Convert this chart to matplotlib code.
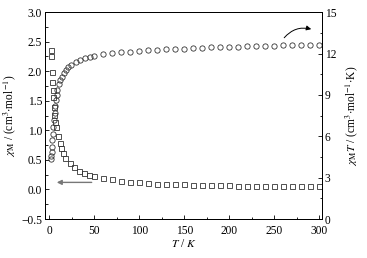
import numpy as np
import matplotlib
matplotlib.use("Agg")
import matplotlib.pyplot as plt
from matplotlib.ticker import MultipleLocator

plt.rcParams['font.family'] = ['Liberation Serif', 'DejaVu Serif']
plt.rcParams['mathtext.fontset'] = 'stix'
plt.rcParams['font.size'] = 8.3

# chi_M (squares, left axis)
t_chi = [1.8, 2.2, 2.6, 3.0, 3.4, 3.8, 4.5, 5.5, 6.6, 7.7, 9.2, 11.4, 13.3, 15.2, 17.4,
         22.9, 27.7, 33.3, 38.8, 44.3, 49.8,
         60, 70, 80, 90, 100, 110, 120, 130, 140, 150, 160, 170, 180, 190, 200,
         210, 220, 230, 240, 250, 260, 270, 280, 290, 300]
chi = [2.36, 2.25, 1.99, 1.82, 1.68, 1.57, 1.39, 1.26, 1.14, 1.05, 0.90, 0.79, 0.71, 0.62, 0.53,
       0.44, 0.38, 0.32, 0.28, 0.25, 0.23,
       0.20, 0.17, 0.15, 0.13, 0.12, 0.11, 0.10, 0.095, 0.09, 0.085, 0.08, 0.077, 0.074, 0.071, 0.068,
       0.066, 0.064, 0.062, 0.06, 0.058, 0.056, 0.055, 0.054, 0.052, 0.051]

# chi_M*T (circles, right axis)
t_chit = [1.9, 2.0, 2.3, 2.6, 3.0, 3.5, 4.1, 4.8, 5.6, 6.3, 7.1, 7.9, 8.9, 10.4, 12.2,
          14.1, 16, 18.5, 21.1, 24.4, 29.2, 34, 39.5, 45, 49.5,
          60, 70, 80, 90, 100, 110, 120, 130, 140, 150, 160, 170, 180, 190, 200,
          210, 220, 230, 240, 250, 260, 270, 280, 290, 300]
chit = [4.37, 4.54, 4.84, 5.23, 5.70, 6.17, 6.69, 7.20, 7.71, 8.19, 8.61, 9.00, 9.39, 9.77, 10.07,
        10.33, 10.59, 10.80, 11.01, 11.19, 11.36, 11.53, 11.66, 11.74, 11.79,
        11.93, 12.01, 12.08, 12.13, 12.17, 12.22, 12.26, 12.30, 12.33, 12.36, 12.39, 12.42, 12.44,
        12.46, 12.48, 12.50, 12.52, 12.54, 12.56, 12.58, 12.59, 12.61, 12.62, 12.64, 12.65]

fig = plt.figure(figsize=(3.67, 2.58), dpi=100)
ax = fig.add_axes([0.1226, 0.151, 0.7548, 0.802])
ax2 = ax.twinx()

ax.plot(t_chi, chi, 's', ms=3.6, mfc='none', mec='#333333', mew=0.6)
ax2.plot(t_chit, chit, 'o', ms=3.8, mfc='none', mec='#333333', mew=0.6)

ax.set_xlim(-5, 303)
ax.set_ylim(-0.5, 3.0)
ax2.set_ylim(0, 15)

ax.xaxis.set_major_locator(MultipleLocator(50))
ax.xaxis.set_minor_locator(MultipleLocator(25))
ax.yaxis.set_major_locator(MultipleLocator(0.5))
ax.yaxis.set_minor_locator(MultipleLocator(0.25))
ax2.yaxis.set_major_locator(MultipleLocator(3))
ax2.yaxis.set_minor_locator(MultipleLocator(1.5))

for a in (ax, ax2):
    a.tick_params(which='both', direction='in', width=0.6)
    a.tick_params(which='major', length=3)
    a.tick_params(which='minor', length=1.8)
    for s in a.spines.values():
        s.set_linewidth(0.7)
ax.tick_params(axis='both', which='both', top=False, right=False)
ax.tick_params(axis='x', pad=4)
ax.tick_params(axis='y', pad=2)
ax2.tick_params(axis='y', which='both', pad=2)

ax.set_xlabel(r'$T$ / $K$', labelpad=1)
ax.set_ylabel(r'$\chi_{\rm M}$ / (cm$^3$$\cdot$mol$^{-1}$)', labelpad=2)
ax2.set_ylabel(r'$\chi_{\rm M}T$ / (cm$^3$$\cdot$mol$^{-1}$$\cdot$K)', labelpad=5)

# arrows pointing to the axis each series belongs to
ax.annotate('', xy=(5, 0.12), xytext=(50, 0.12),
            arrowprops=dict(arrowstyle='-|>', color='#777777', lw=1.0,
                            mutation_scale=7))
ax.annotate('', xy=(294, 2.70), xytext=(259, 2.53),
            arrowprops=dict(arrowstyle='-|>', color='black', lw=0.7,
                            mutation_scale=7, connectionstyle='arc3,rad=-0.35'))

fig.savefig('out.png', dpi=100)
